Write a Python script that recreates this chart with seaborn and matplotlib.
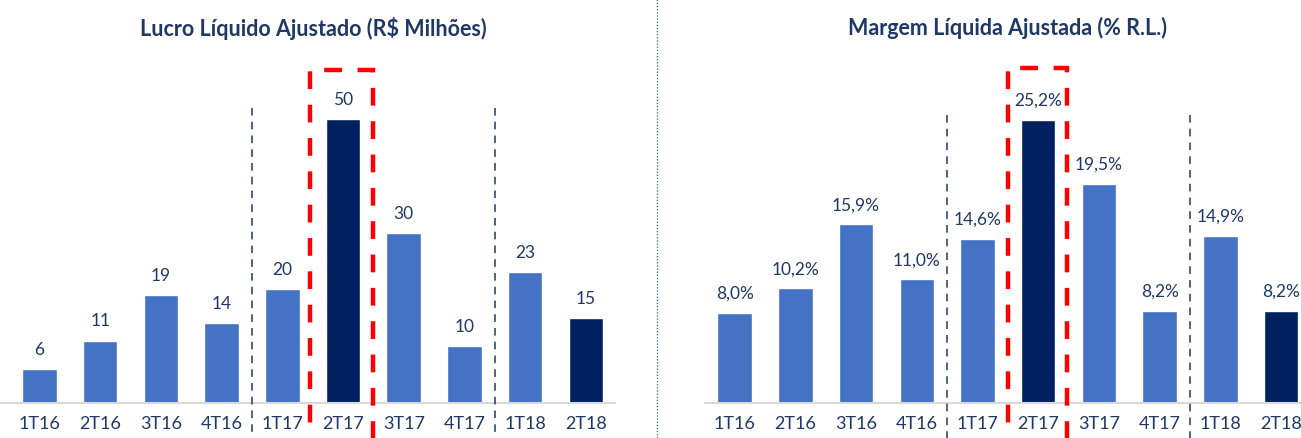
import numpy as np
import pandas as pd
import matplotlib
matplotlib.use("Agg")
import matplotlib.pyplot as plt
from matplotlib.patches import Rectangle
import seaborn as sns

quarters = ["1T16", "2T16", "3T16", "4T16", "1T17", "2T17", "3T17", "4T17", "1T18", "2T18"]
lucro = [6, 11, 19, 14, 20, 50, 30, 10, 23, 15]
margem = [8.0, 10.2, 15.9, 11.0, 14.6, 25.2, 19.5, 8.2, 14.9, 8.2]
highlight = ["2T17", "2T18"]

title_left = "Lucro Líquido Ajustado (R$ Milhões)"
title_right = "Margem Líquida Ajustada (% R.L.)"

BLUE = "#4472C4"
NAVY = "#002060"
TXT = "#1F3864"

sns.set_theme(style="white")
plt.rcParams["font.family"] = ["Lato", "DejaVu Sans"]

W, H = 1301, 439
fig = plt.figure(figsize=(W / 100, H / 100), dpi=100)

def px(x0, x1, y0, y1):
    # pixel box (top-left origin) -> figure fraction
    return [x0 / W, 1 - y1 / H, (x1 - x0) / W, (y1 - y0) / H]

ax1 = fig.add_axes(px(0, 615, 60, 404))
ax2 = fig.add_axes(px(705, 1301, 60, 404))

palette = {q: (NAVY if q in highlight else BLUE) for q in quarters}

def draw(ax, vals, fmt, ymax, xlim, box, sep_top):
    df = pd.DataFrame({"q": quarters, "v": vals})
    sns.barplot(data=df, x="q", y="v", hue="q", palette=palette, legend=False,
                width=0.57, ax=ax, saturation=1)
    ax.set_ylim(0, ymax)
    ax.set_xlim(*xlim)
    for i, v in enumerate(vals):
        ax.text(i, v + ymax * 0.035, fmt(v), ha="center", va="bottom",
                fontsize=12.5, color=TXT)
    ax.set_xlabel("")
    ax.set_ylabel("")
    ax.set_yticks([])
    ax.tick_params(axis="x", length=0, pad=9, labelsize=13, labelcolor=TXT)
    for s in ["top", "left", "right"]:
        ax.spines[s].set_visible(False)
    ax.spines["bottom"].set_color("#D9D9D9")
    ax.spines["bottom"].set_linewidth(1.5)
    for xs in (3.5, 7.5):
        ax.plot([xs, xs], [sep_top, -ymax * 0.2], color=TXT, lw=1.1,
                ls=(0, (5, 4)), clip_on=False, zorder=3)
    bx0, bx1, btop = box
    ax.add_patch(Rectangle((bx0, -ymax * 0.25), bx1 - bx0, btop + ymax * 0.25,
                           fill=False, ec="#FF0000", lw=3.2, ls=(0, (4, 3.5)),
                           clip_on=False, zorder=4))

draw(ax1, lucro, lambda v: f"{v:.0f}", 60.56, (-0.65, 9.48), (4.46, 5.49, 58.6), 52.0)
draw(ax2, margem, lambda v: f"{v:.1f}%".replace(".", ","), 30.63, (-0.49, 9.33),
     (4.5, 5.47, 29.8), 25.6)

fig.text(313 / W, 1 - 28 / H, title_left, ha="center", va="center",
         fontsize=15.5, fontweight="bold", color=TXT)
fig.text(1007 / W, 1 - 28 / H, title_right, ha="center", va="center",
         fontsize=15.5, fontweight="bold", color=TXT)

fig.add_artist(plt.Line2D([657 / W, 657 / W], [0, 1], color="#2F5597", lw=0.9,
                          ls=(0, (1, 1.5)), transform=fig.transFigure))

fig.savefig("out.png", dpi=100)
